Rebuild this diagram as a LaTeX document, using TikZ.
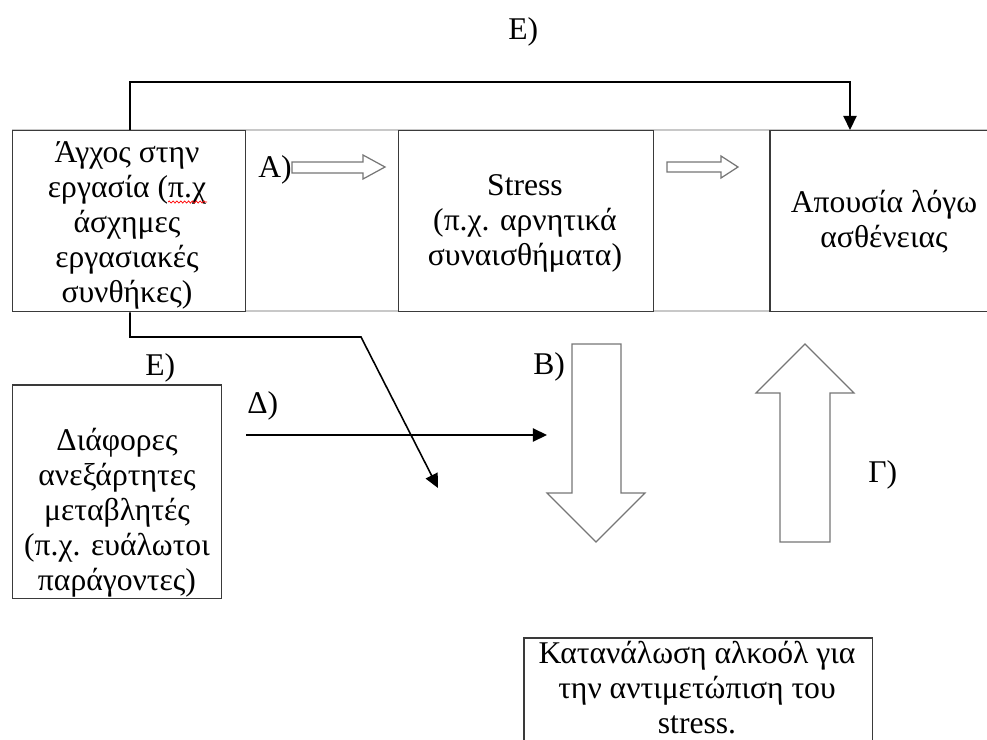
\documentclass[tikz,border=0pt]{standalone}
\usepackage{fontspec}
\setmainfont{Liberation Serif}
\usetikzlibrary{arrows.meta,decorations.pathmorphing}
\definecolor{boxline}{HTML}{3A3A3A}
\definecolor{rowline}{HTML}{C8C8C8}
\definecolor{blockline}{HTML}{767676}
\begin{document}
\begin{tikzpicture}[x=0.02cm,y=-0.02cm,
  txt/.style={font=\fontsize{18}{19.8}\selectfont, align=center, inner sep=0pt, anchor=base},
  lbl/.style={font=\fontsize{18}{19.8}\selectfont, inner sep=0pt, anchor=base west},
  boxnode/.style={draw=boxline, line width=0.85pt, anchor=north west, inner sep=0pt},
  conn/.style={draw=black, line width=0.9pt, -{Triangle[length=8pt,width=7.5pt]}},
  blockarrow/.style={draw=blockline, line width=0.7pt, fill=white, line join=miter}
]
\useasboundingbox (0,0) rectangle (987,740);
\clip (0,0) rectangle (987,740);
% light row lines
\draw[rowline, line width=0.9pt] (12,130) -- (987,130);
\draw[rowline, line width=0.9pt] (12,311) -- (987,311);
% boxes
\node[boxnode, minimum width=4.66cm, minimum height=3.62cm, fill=white] (b1) at (12,130) {};
\node[boxnode, minimum width=5.10cm, minimum height=3.62cm, fill=white] (b2) at (398,130) {};
\node[boxnode, minimum width=4.60cm, minimum height=3.62cm, fill=white] (b3) at (769,130) {};
\node[boxnode, minimum width=4.18cm, minimum height=4.26cm] (b4) at (12,385) {};
\draw[boxline, line width=1.7pt] (b4.north west) -- (b4.north east);
\node[boxnode, minimum width=6.98cm, minimum height=2.60cm] (b5) at (523,637) {};
% box texts (anchored at the baseline of their last line)
\node[txt] (t1) at (127,302) {Άγχος στην\\εργασία (π.χ\\άσχημες\\εργασιακές\\συνθήκες)};
\node[txt] (t2) at (525,265) {Stress\\(π.χ. αρνητικά\\συναισθήματα)};
\node[txt] (t3) at (884,247) {Απουσία λόγω\\ασθένειας};
\node[txt] (t4) at (117,590) {Διάφορες\\ανεξάρτητες\\μεταβλητές\\(π.χ. ευάλωτοι\\παράγοντες)};
\node[txt] (t5) at (697,733) {Κατανάλωση αλκοόλ για\\την αντιμετώπιση του\\stress.};
% spell-check squiggle
\draw[red, line width=0.4pt, decorate, decoration={snake, amplitude=0.6pt, segment length=2.2pt}] (168,202) -- (207,202);
% labels
\node[lbl] (lE1) at (508,40) {Ε)};
\node[lbl] (lE2) at (145,375) {Ε)};
\node[lbl] (lA) at (258,177) {Α)};
\node[lbl] (lD) at (247,413) {Δ)};
\node[lbl] (lB) at (533,374) {Β)};
\node[lbl] (lG) at (868,482) {Γ)};
% connectors
\coordinate (c1) at (130,82);
\coordinate (c2) at (850,82);
\draw[conn] (b1.north -| c1) -- (c1) -- (c2) -- (b3.north -| c2);
\coordinate (c3) at (130,337);
\coordinate (c4) at (361,337);
\coordinate (c5) at (438,488);
\draw[conn] (b1.south -| c3) -- (c3) -- (c4) -- (c5);
\coordinate (d1) at (246,435);
\coordinate (d2) at (547,435);
\draw[conn] (d1) -- (d2);
% block arrows
\draw[blockarrow] (292,162) -- (363,162) -- (363,155) -- (385,167) -- (363,179) -- (363,173) -- (292,173) -- cycle;
\draw[blockarrow] (667,162) -- (721,162) -- (721,156) -- (738,167) -- (721,178) -- (721,172) -- (667,172) -- cycle;
\draw[blockarrow] (572,344) -- (621,344) -- (621,493) -- (645,493) -- (596,542) -- (547,493) -- (572,493) -- cycle;
\draw[blockarrow] (780,542) -- (830,542) -- (830,393) -- (854,393) -- (805,344) -- (756,393) -- (780,393) -- cycle;
\end{tikzpicture}
\end{document}
